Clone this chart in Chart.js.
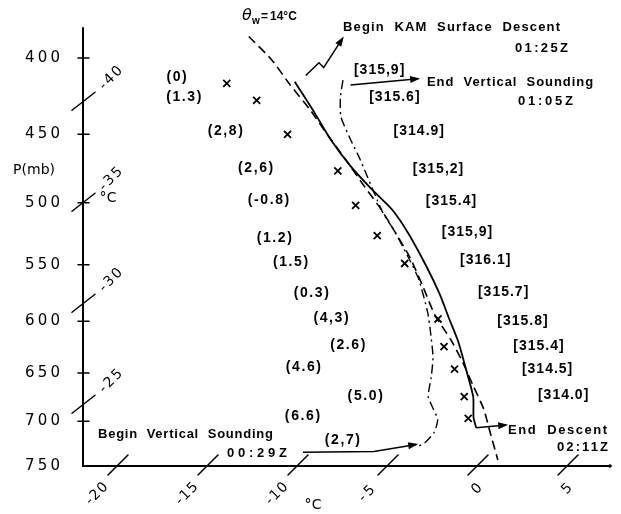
<!DOCTYPE html>
<html>
<head>
<meta charset="utf-8">
<script src="https://cdn.jsdelivr.net/npm/chart.js@4.4.0/dist/chart.umd.min.js"></script>
<style>
html, body { margin: 0; padding: 0; background: #fff; }
canvas { display: block; }
</style>
</head>
<body>
<canvas id="chart" width="621" height="514"></canvas>
<script>
// pressure (mb) and temperature (degC)

// tick labels
const pTicks = [400, 450, 500, 550, 600, 650, 700, 750];
const tBottomTicks = [-20, -15, -10, -5, 0, 5];
const tLeftTicks = [-40, -35, -30, -25];

// X marks (observed temperatures)
const markP = [416, 427, 450, 476, 502, 526, 549, 598, 624, 646, 674, 697];
const markT = [-32.9, -30.4, -27.0, -22.4, -19.7, -17.0, -14.1, -9.5, -7.8, -6.1, -4.2, -2.9];

// solid line (descent)
const solidP = [415, 435, 454, 472, 489, 505, 524, 552, 576, 599, 620, 647, 674, 696, 707];
const solidT = [-29.2, -26.6, -24.3, -22.0, -19.7, -17.5, -15.4, -12.7, -10.6, -8.8, -7.2, -5.4, -3.7, -2.65, -2.0];

// dashed line, theta-w = 14 C
const dashP = [387, 401, 417, 433, 450, 468, 488, 505, 523, 544, 567, 594, 617, 639, 662, 687, 712, 743];
const dashT = [-34.0, -31.6, -29.3, -27.0, -24.8, -22.5, -20.1, -18.1, -16.2, -14.1, -12.1, -9.9, -7.8, -6.0, -4.3, -2.5, -1.0, 0.8];

// dash-dot line (vertical sounding)
const dotP = [414, 425, 438, 454, 467, 508, 521, 546, 563, 592, 608, 634, 654, 674, 687, 698, 712, 723, 728];
const dotT = [-26.6, -25.9, -24.9, -23.2, -21.8, -17.8, -16.4, -14.0, -12.5, -10.4, -9.4, -7.9, -7.0, -6.2, -5.3, -4.55, -4.1, -4.1, -4.3];

// values in parentheses
const parenText = ['(0)', '(1.3)', '(2,8)', '(2,6)', '(-0.8)', '(1.2)', '(1.5)', '(0.3)', '(4,3)', '(2.6)', '(4.6)', '(5.0)', '(6.6)', '(2,7)'];
const parenP = [412, 425, 448, 474, 498, 528, 548, 575, 597, 623, 644, 674, 695, 721];
const parenT = [-36.0, -34.6, -30.6, -27.1, -24.8, -22.6, -20.5, -17.8, -15.5, -13.2, -14.6, -9.7, -12.2, -8.8];

// values in brackets
const brText = ['[315,9]', '[315.6]', '[314.9]', '[315,2]', '[315.4]', '[315,9]', '[316.1]', '[315.7]', '[315.8]', '[315.4]', '[314.5]', '[314.0]'];
const brP = [407.5, 425, 448, 475, 499, 523, 546, 574, 600, 624, 646, 672];
const brT = [-25.1, -22.9, -19.85, -16.9, -14.6, -12.2, -9.8, -7.2, -4.7, -2.55, -0.96, 1.2];

// annotation arrows
const arrBeginVsP = [734.4, 733.3, 725.5];
const arrBeginVsT = [-10.4, -6.5, -4.5];
const arrEndVsP = [417, 413];
const arrEndVsT = [-25.95, -22.5];
const arrKamP = [411, 403, 406, 388];
const arrKamT = [-28.9, -28.8, -28.3, -28.7];
const arrEndDescP = [707, 704];
const arrEndDescT = [-2.0, -0.47];

const SKEW = 32.14;   // isotherm slant, degC per ln(p)
const P_BASE = 750;

function skewX(t, p) { return t + SKEW * Math.log(P_BASE / p); }
function pts(ts, ps) { return ts.map((t, i) => ({ x: skewX(t, ps[i]), y: ps[i] })); }

function spacedText(ctx, s, x, y, width, align) {
    ctx.letterSpacing = '0px';
    const w0 = ctx.measureText(s).width;
    const n = [...s].length;
    let sp = n > 1 ? (width - w0) / (n - 1) : 0;
    if (sp < -1) sp = -1;
    const w = w0 + sp * (n - 1);
    ctx.letterSpacing = sp.toFixed(2) + 'px';
    ctx.textAlign = 'left';
    let x0 = x;
    if (align === 'center') x0 = x - w / 2;
    if (align === 'right') x0 = x - w;
    ctx.fillText(s, x0, y);
    ctx.letterSpacing = '0px';
}

function seg(ctx, x1, y1, x2, y2) {
    ctx.beginPath();
    ctx.moveTo(x1, y1);
    ctx.lineTo(x2, y2);
    ctx.stroke();
}

const notes = [
    ['Begin  KAM  Surface  Descent', 343, 560, 27],
    ['01:25Z', 515, 568, 48],
    ['End  Vertical  Sounding', 427, 593, 82],
    ['01:05Z', 518, 573, 101],
    ['Begin  Vertical  Sounding', 98, 273, 434],
    ['00:29Z', 227, 287, 453],
    ['End  Descent', 508, 607, 430],
    ['02:11Z', 557, 608, 447]
];

const decor = {
    id: 'decor',
    afterDatasetsDraw(chart) {
        const { ctx, chartArea: a, scales: { x, y } } = chart;
        ctx.save();
        ctx.strokeStyle = '#000';
        ctx.fillStyle = '#000';
        ctx.lineCap = 'round';

        // axes
        ctx.lineWidth = 2;
        ctx.beginPath();
        ctx.moveTo(a.left, a.top);
        ctx.lineTo(a.left, a.bottom);
        ctx.lineTo(a.right, a.bottom);
        ctx.stroke();
        ctx.beginPath();
        ctx.arc(a.right, a.bottom, 1.8, 0, Math.PI * 2);
        ctx.fill();

        // pressure ticks and labels
        ctx.lineWidth = 1.5;
        ctx.font = '15px "DejaVu Sans"';
        ctx.textBaseline = 'middle';
        pTicks.forEach(p => {
            const py = y.getPixelForValue(p);
            if (p < P_BASE) seg(ctx, a.left - 5, py, a.left + 6, py);
            spacedText(ctx, String(p), 60, py, 35, 'right');
        });
        ctx.font = '14px "DejaVu Sans"';
        spacedText(ctx, 'P(mb)', 13, 170, 42, 'left');

        // isotherm ticks on the bottom axis
        ctx.font = '14px "DejaVu Sans"';
        tBottomTicks.forEach(t => {
            const px = x.getPixelForValue(skewX(t, P_BASE));
            const py = y.getPixelForValue(P_BASE);
            seg(ctx, px - 10, py + 9, px + 10, py - 11);
            const cx = t < 0 ? px - 21 : px - 1;
            const cy = t < 0 ? py + 28 : py + 23;
            ctx.save();
            ctx.translate(cx, cy);
            ctx.rotate(-Math.PI / 4);
            ctx.textBaseline = 'middle';
            spacedText(ctx, String(t), 0, 0, String(t).length * 8.5, 'center');
            ctx.restore();
        });

        // isotherm ticks on the left axis
        tLeftTicks.forEach(t => {
            const p = P_BASE * Math.exp(-(x.min - t) / SKEW);
            const py = y.getPixelForValue(p);
            seg(ctx, a.left - 11, py + 9, a.left + 12, py - 9);
            ctx.save();
            ctx.translate(a.left + 28, py - 23);
            ctx.rotate(-Math.PI / 4);
            ctx.textBaseline = 'middle';
            spacedText(ctx, String(t), 0, 0, 27, 'center');
            ctx.restore();
        });
        ctx.font = '14px "DejaVu Sans"';
        ctx.textBaseline = 'middle';
        spacedText(ctx, '°C', 108, 198, 17, 'center');
        spacedText(ctx, '°C', 313, 505, 17, 'center');

        // arrow heads
        chart.data.datasets.forEach((ds, i) => {
            if (!ds.arrow) return;
            const el = chart.getDatasetMeta(i).data;
            const e1 = el[el.length - 2], e2 = el[el.length - 1];
            const ang = Math.atan2(e2.y - e1.y, e2.x - e1.x);
            ctx.save();
            ctx.translate(e2.x, e2.y);
            ctx.rotate(ang);
            ctx.beginPath();
            ctx.moveTo(2, 0);
            ctx.lineTo(-8, -3.5);
            ctx.lineTo(-8, 3.5);
            ctx.closePath();
            ctx.fill();
            ctx.restore();
        });

        // value labels
        ctx.font = 'bold 14px "Liberation Sans"';
        ctx.textBaseline = 'middle';
        parenText.forEach((s, i) => {
            const px = x.getPixelForValue(skewX(parenT[i], parenP[i]));
            const py = y.getPixelForValue(parenP[i]);
            spacedText(ctx, s, px, py, ctx.measureText(s).width + ([...s].length - 1) * 1.6, 'center');
        });
        brText.forEach((s, i) => {
            const px = x.getPixelForValue(skewX(brT[i], brP[i]));
            const py = y.getPixelForValue(brP[i]);
            spacedText(ctx, s, px, py, ctx.measureText(s).width + ([...s].length - 1) * 1.0, 'center');
        });

        // annotations
        ctx.font = 'bold 13px "Liberation Sans"';
        notes.forEach(([s, x1, x2, yc]) => spacedText(ctx, s, x1, yc, x2 - x1, 'left'));

        // theta-w label
        ctx.textAlign = 'left';
        ctx.font = 'italic 16px "DejaVu Sans"';
        ctx.fillText('θ', 242, 16);
        ctx.font = 'bold 10px "Liberation Sans"';
        ctx.fillText('w', 252, 21);
        ctx.font = 'bold 12px "Liberation Sans"';
        ctx.fillText('=', 261, 17);
        ctx.fillText('14°C', 270, 17);

        ctx.restore();
    }
};

const lineBase = { showLine: true, borderColor: '#000', pointRadius: 0, fill: false, tension: 0.2 };

new Chart(document.getElementById('chart'), {
    type: 'scatter',
    data: {
        datasets: [
            { ...lineBase, data: pts(dashT, dashP), borderWidth: 1.6, borderDash: [9, 5] },
            { ...lineBase, data: pts(dotT, dotP), borderWidth: 1.4, borderDash: [9, 4, 2, 4] },
            { ...lineBase, data: pts(solidT, solidP), borderWidth: 1.8 },
            { data: pts(markT, markP), showLine: false, pointStyle: 'crossRot', pointRadius: 5,
              borderColor: '#000', backgroundColor: '#000', borderWidth: 1.8 },
            { ...lineBase, data: pts(arrBeginVsT, arrBeginVsP), borderWidth: 1.5, tension: 0, arrow: true },
            { ...lineBase, data: pts(arrEndVsT, arrEndVsP), borderWidth: 1.5, tension: 0, arrow: true },
            { ...lineBase, data: pts(arrKamT, arrKamP), borderWidth: 1.5, tension: 0, arrow: true },
            { ...lineBase, data: pts(arrEndDescT, arrEndDescP), borderWidth: 1.5, tension: 0, arrow: true }
        ]
    },
    options: {
        responsive: false,
        animation: false,
        devicePixelRatio: 1,
        layout: { padding: { left: 83, right: 11, top: 28, bottom: 48 } },
        scales: {
            x: { type: 'linear', display: false, min: -21.944, max: 7.333 },
            y: { type: 'logarithmic', display: false, reverse: true, min: 382, max: 750 }
        },
        plugins: { legend: { display: false }, tooltip: { enabled: false } }
    },
    plugins: [decor]
});
</script>
</body>
</html>
